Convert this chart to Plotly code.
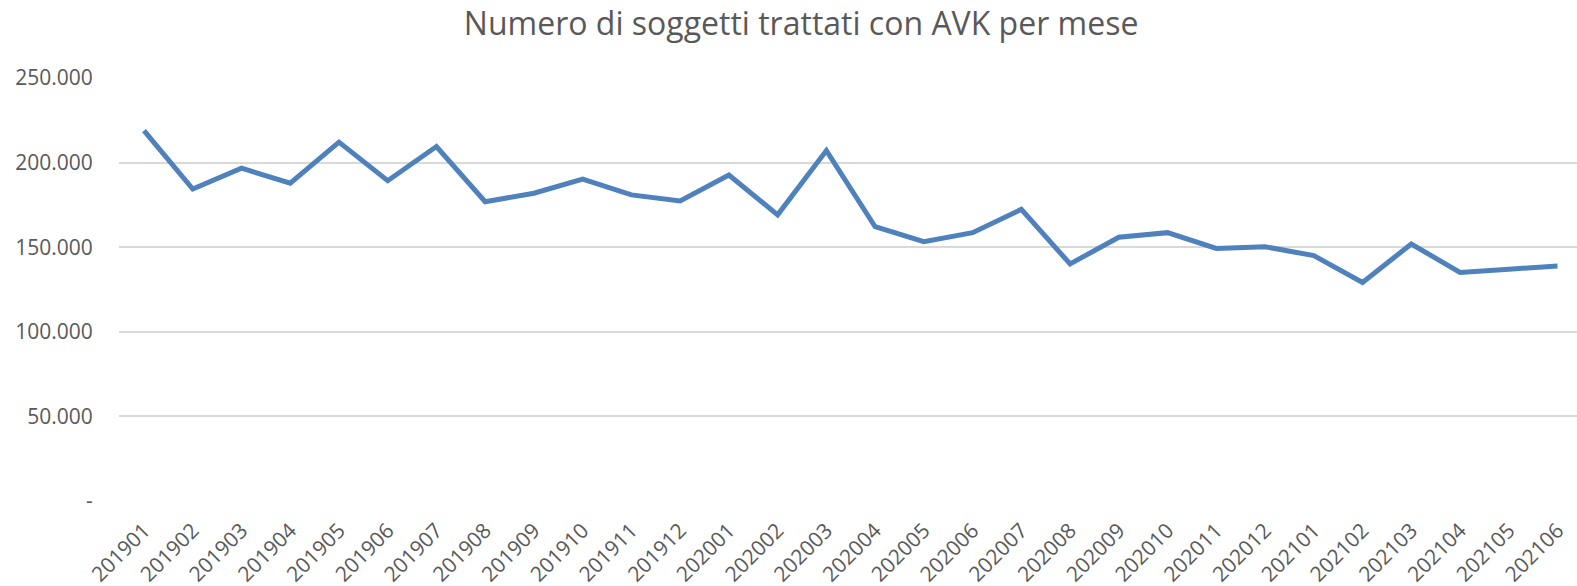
import plotly.graph_objects as go

months = ["201901", "201902", "201903", "201904", "201905", "201906", "201907", "201908",
          "201909", "201910", "201911", "201912", "202001", "202002", "202003", "202004",
          "202005", "202006", "202007", "202008", "202009", "202010", "202011", "202012",
          "202101", "202102", "202103", "202104", "202105", "202106"]
subjects = [218900, 184400, 196700, 187800, 212100, 189300, 209500, 176900,
            181900, 190200, 180900, 177300, 192700, 169100, 207100, 162100,
            153300, 158600, 172400, 140100, 155900, 158600, 149300, 150300,
            145000, 129200, 151900, 135100, 137000, 138900]
y_tickvals = [0, 50000, 100000, 150000, 200000, 250000]
y_ticktext = ["-", "50.000", "100.000", "150.000", "200.000", "250.000"]

fig = go.Figure()
fig.add_trace(go.Scatter(
    x=months, y=subjects, mode="lines",
    line=dict(color="#4F81BD", width=5),
    hoverinfo="x+y",
))

fig.update_layout(
    width=1577, height=586,
    paper_bgcolor="white", plot_bgcolor="white",
    margin=dict(l=119, r=0, t=78, b=85),
    showlegend=False,
    font=dict(family="Open Sans", color="#595959"),
    title=dict(text="Numero di soggetti trattati con AVK per mese",
               x=0.508, xanchor="center", y=0.959, yanchor="middle",
               font=dict(size=32, color="#595959", family="Open Sans")),
)
# the original chart's plot area runs slightly past the right edge of the picture
fig.update_xaxes(
    type="category", range=[-0.513, 29.4],
    tickangle=-45, tickfont=dict(size=21, color="#595959"),
    showgrid=False, showline=False, ticks="outside", ticklen=8,
    tickcolor="rgba(0,0,0,0)", automargin=False,
)
fig.update_yaxes(
    range=[0, 250000], tickvals=y_tickvals, ticktext=y_ticktext,
    tickfont=dict(size=21, color="#595959"),
    showgrid=True, gridcolor="#D9D9D9", gridwidth=1.5,
    zeroline=False, showline=False, ticks="outside", ticklen=21,
    tickcolor="rgba(0,0,0,0)", automargin=False,
)

fig.write_html("out.html", config={"displayModeBar": False},
               post_script="document.body.style.margin='0';")
